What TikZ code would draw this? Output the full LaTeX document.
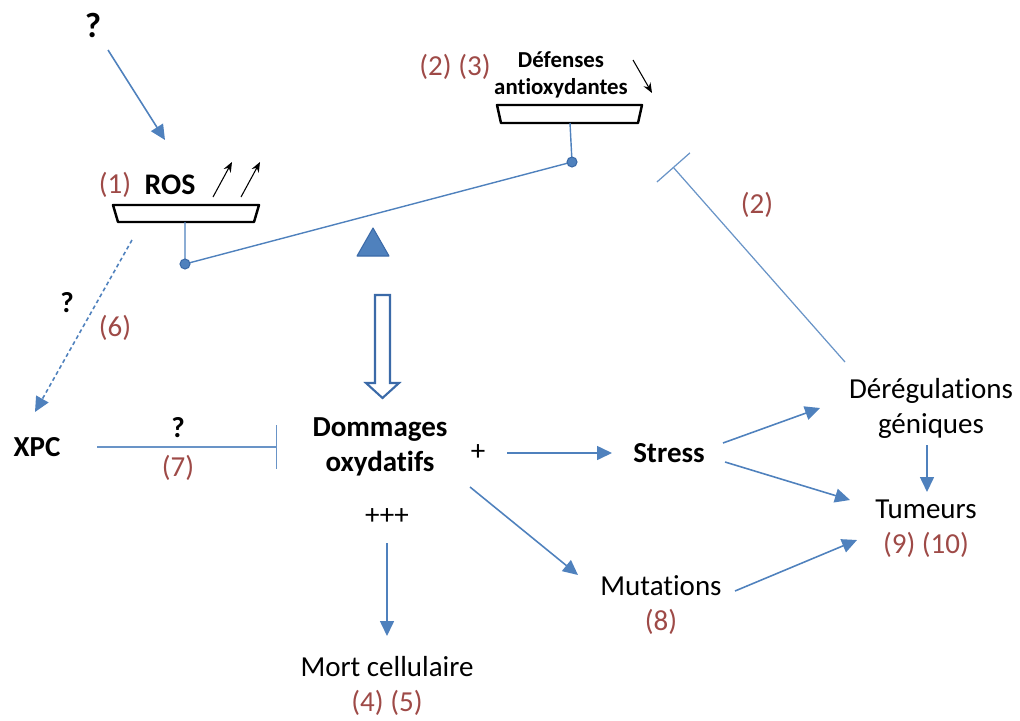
\documentclass[tikz,border=0pt]{standalone}
\usepackage{fontspec}
\setmainfont{Carlito}[Ligatures=NoCommon]
\usetikzlibrary{arrows.meta}
\definecolor{linkblue}{HTML}{4F81BD}
\definecolor{darkblue}{HTML}{3B6AA8}
\definecolor{refred}{HTML}{9E4A47}
\tikzset{
  lbl/.style={inner sep=0pt, align=center, font=\fontsize{16.5}{20}\selectfont},
  bold/.style={lbl, font=\fontsize{16.5}{20}\selectfont\bfseries},
  ref/.style={lbl, text=refred},
  arr/.style={draw=linkblue, line width=0.9pt, -{Triangle[length=0.3cm,width=0.28cm]}},
  inh/.style={draw=linkblue!85, line width=0.7pt, -{Bar[width=0.88cm]}},
  pan/.style={draw=black, line width=1.4pt, fill=white, line join=round},
  pin/.style={fill=linkblue, draw=darkblue, line width=0.6pt},
  trend/.style={black, line width=0.6pt, -{Stealth[length=0.2cm,width=0.16cm]}}
}

\begin{document}
\begin{tikzpicture}[x=0.02cm,y=-0.02cm]
        \useasboundingbox (0,0) rectangle (1020,720);
        % balance: pans
        \draw[pan] (113,205) -- (259,205) -- (254,222) -- (118,222) -- cycle;
        \draw[pan] (497,105) -- (642,105) -- (638,123) -- (501,123) -- cycle;
        % balance: beam and pins
        \coordinate (lpin) at (185,264);
        \coordinate (rpin) at (572,162);
        \draw[linkblue, line width=0.8pt] (185,222) -- (lpin) -- (rpin) -- (570,123);
        \draw[pin] (lpin) circle (0.1cm);
        \draw[pin] (rpin) circle (0.1cm);
        % pivot
        \draw[pin, line join=round] (373,228) -- (389,256) -- (357,256) -- cycle;
        % hollow arrow
        \draw[darkblue, line width=1.2pt] (375,295) -- (390,295) -- (390,383) -- (399,383)
            -- (382.5,398) -- (366,383) -- (375,383) -- cycle;

        % top labels
        \node[bold, font=\fontsize{20}{24}\selectfont\bfseries] (q1) at (93,25) {?};
        \node[bold, font=\fontsize{17}{20}\selectfont\bfseries] (ros) at (170,185) {ROS};
        \node[ref] (r1) at (115,185) {(1)};
        \node[lbl, font=\fontsize{13}{15}\selectfont\bfseries] (def) at (561,75) {Défenses\\antioxydantes};
        \node[ref] (r23) at (455,67) {(2) (3)};
        % left side
        \node[bold] (xpc) at (37,447) {XPC};
        \node[bold] (q6) at (67,303) {?};
        \node[ref] (r6) at (115,328) {(6)};
        \node[bold] (q7) at (178,428) {?};
        \node[ref] (r7) at (178,468) {(7)};
        % middle
        \node[bold] (domm) at (380,447) {Dommages\\oxydatifs};
        \node[lbl] (plus) at (478,453) {+};
        \node[lbl] (pp) at (387,517) {+++};
        \node[lbl] (mort) at (387,686) {Mort cellulaire\\\textcolor{refred}{(4) (5)}};
        \node[lbl] (mut) at (661,605) {Mutations\\\textcolor{refred}{(8)}};
        % right side
        \node[bold] (stress) at (669,453) {Stress};
        \node[lbl] (dereg) at (931,408) {Dérégulations\\géniques};
        \node[lbl] (tum) at (926,529) {Tumeurs\\\textcolor{refred}{(9) (10)}};
        \node[ref] (r2) at (757,205) {(2)};
        \coordinate (inhib) at (673,167);

        % up / down trends
        \draw[trend] ([shift={(43,12)}]ros.center) -- ++(19,-35);
        \draw[trend] ([shift={(71,12)}]ros.center) -- ++(19,-35);
        \draw[trend] ([shift={(72,-15)}]def.center) -- ++(19,33);

        % links
        \draw[arr] ([shift={(15,25)}]q1.center) -- ([shift={(-5,-45)}]ros.center);
        \draw[arr, dash pattern=on 2.2pt off 1.7pt] ([shift={(-38,55)}]ros.center) -- ([shift={(-2,-35)}]xpc.center);
        \draw[inh] ([shift={(60,0)}]xpc.center) -- ([shift={(-103,0)}]domm.center);
        \draw[arr] ([shift={(29,0)}]plus.center) -- ([shift={(-57,0)}]stress.center);
        \draw[arr] ([shift={(54,-10)}]stress.center) -- ([shift={(-111,0)}]dereg.center);
        \draw[arr] ([shift={(56,9)}]stress.center) -- ([shift={(-76,-29)}]tum.center);
        \draw[arr] ([shift={(-4,37)}]dereg.center) -- ([shift={(1,-37)}]tum.center);
        \draw[arr] ([shift={(74,-14)}]mut.center) -- ([shift={(-69,11)}]tum.center);
        \draw[arr] ([shift={(90,40)}]domm.center) -- ([shift={(-83,-30)}]mut.center);
        \draw[arr] ([shift={(0,26)}]pp.center) -- ([shift={(0,-50)}]mort.center);
        \draw[inh] ([shift={(-86,-46)}]dereg.center) -- (inhib);
\end{tikzpicture}
\end{document}
